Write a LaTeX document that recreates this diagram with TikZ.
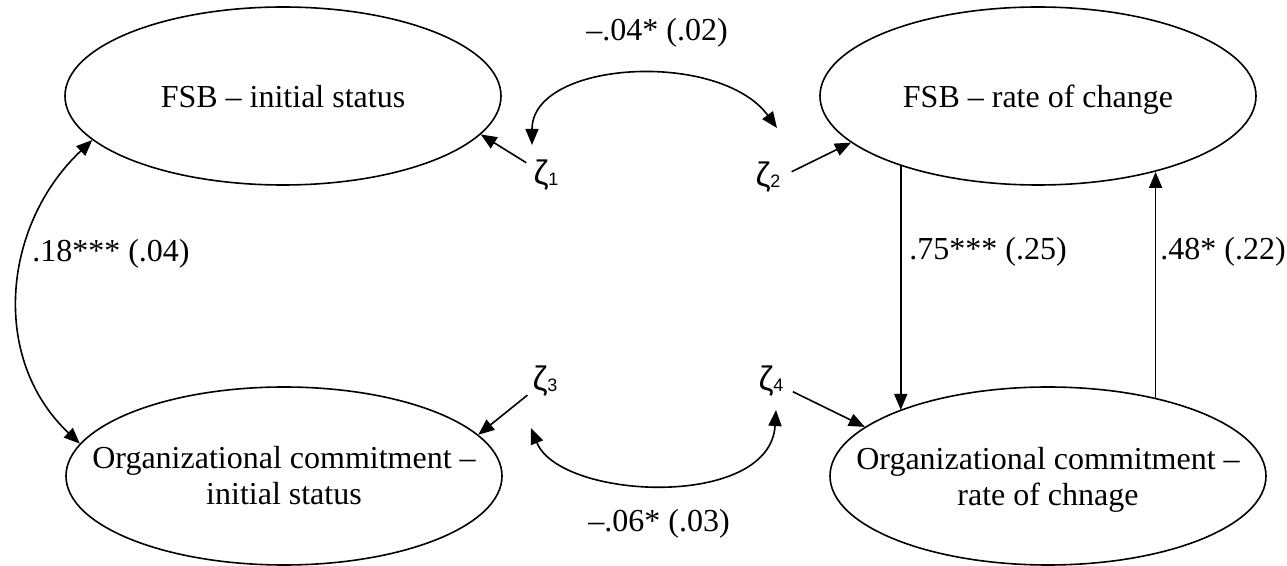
\documentclass[tikz,border=0pt]{standalone}
\usepackage{fontspec}
\setmainfont{Liberation Serif}
\newfontfamily\zfont{Liberation Sans}
\usetikzlibrary{arrows.meta,shapes.geometric}
\begin{document}
\begin{tikzpicture}[x=0.5pt,y=-0.5pt,
  lat/.style={draw, ellipse, line width=0.8pt, minimum width=218pt, minimum height=89pt,
    inner xsep=-70pt, inner ysep=-20pt, align=center, font=\fontsize{16}{18}\selectfont},
  arr/.style={line width=0.8pt, -{Triangle[length=8pt,width=6.5pt]}},
  bi/.style={line width=0.8pt, {Triangle[length=8pt,width=6.5pt]}-{Triangle[length=8pt,width=6.5pt]}},
  lbl/.style={font=\fontsize{16}{18}\selectfont, inner sep=0pt, anchor=base},
  zeta/.style={font=\zfont\fontsize{17}{18}\selectfont, inner sep=0pt},
]
\useasboundingbox (0,0) rectangle (1287,566);

% latent variables
\node[lat, text depth=0pt] (e1) at (283,96) {FSB – initial status};
\node[lat, text depth=0pt] (e2) at (1038,96) {FSB – rate of change};
\node[lat] (e3) at (284,476) {Organizational commitment –\\initial status};
\node[lat] (e4) at (1048,476) {Organizational commitment –\\\smash{rate of chnage}};

% disturbances
\newcommand{\zsub}[1]{\raisebox{-0.5pt}{\fontsize{9}{9}\selectfont #1}}
\node[zeta] (z1) at (546,175) {ζ\zsub{1}};
\node[zeta] (z2) at (768,177) {ζ\zsub{2}};
\node[zeta] (z3) at (545,381) {ζ\zsub{3}};
\node[zeta] (z4) at (771,381) {ζ\zsub{4}};

% disturbance paths
\draw[arr, shorten <=4pt] (z1) -- (e1.-11.3);
\draw[arr, shorten <=6pt] (z2.east) -- (e2.-166.7);
\draw[arr, shorten <=3pt] (z3) -- (e3.12.8);
\draw[arr, shorten <=5pt] (z4) -- (e4.165.8);

% cross-lagged paths
\draw[arr] (e2.-153.4) -- (e2.-153.4 |- e4.156.3);
\draw[arr] (e4.36.6) -- (e4.36.6 |- e2.-33.3);

% covariances
\draw[bi] (e1.-167.2) .. controls +(-90,85) and +(-90,-85) .. (e3.171.4);
\coordinate (b1) at (532,145);
\coordinate (b2) at (777,128);
\coordinate (b3) at (531,428);
\coordinate (b4) at (776,410);
\draw[bi] (b1) .. controls (532,60) and (720,50) .. (b2);
\draw[bi] (b3) .. controls (560,500) and (770,510) .. (b4);

% labels
\node[lbl] (l1) at (657,41) {–.04* (.02)};
\node[lbl] (l2) at (111,262) {.18*** (.04)};
\node[lbl] (l3) at (988,260) {.75*** (.25)};
\node[lbl] (l4) at (1223,260) {.48* (.22)};
\node[lbl] (l5) at (659,532) {–.06* (.03)};
\end{tikzpicture}
\end{document}
